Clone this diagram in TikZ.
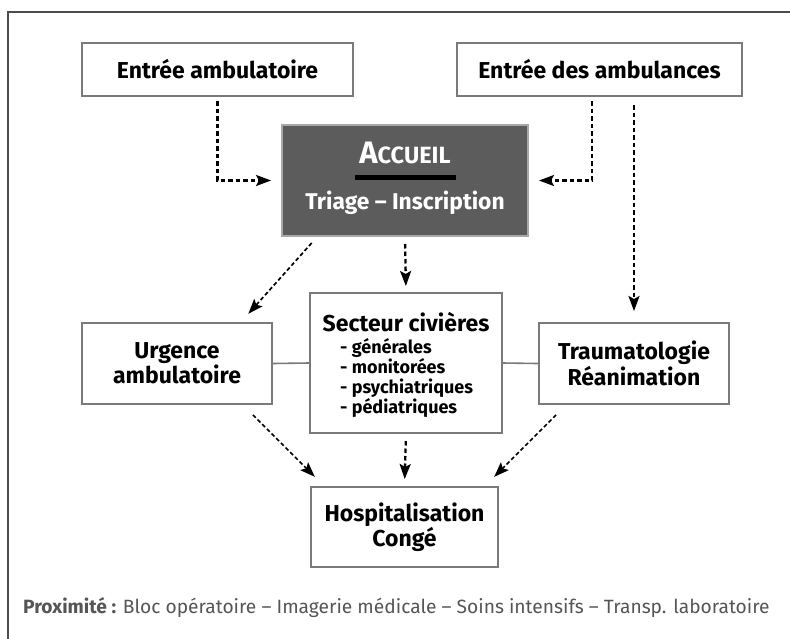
\documentclass[tikz,border=0pt]{standalone}
\usepackage{fontspec}
\setmainfont{Fira Sans}
\usetikzlibrary{arrows.meta}
\definecolor{boxgray}{HTML}{7A7A7A}
\definecolor{accfill}{HTML}{5C5C5C}
\definecolor{accborder}{HTML}{A8A8A8}
\definecolor{foottext}{HTML}{555555}
\begin{document}
\begin{tikzpicture}[x=1pt,y=-1pt,
  box/.style={draw=boxgray, line width=2pt, fill=white, align=center, inner sep=0pt,
    font=\bfseries\fontsize{23}{23.5}\selectfont},
  darrow/.style={dash pattern=on 4.5pt off 3pt, line width=2.3pt,
    -{Stealth[length=15pt,width=11pt,inset=3pt]}},
  diagarrow/.style={dash pattern=on 4pt off 2.6pt, line width=1.7pt,
    -{Stealth[length=15pt,width=11pt,inset=3pt]}},
  link/.style={draw=boxgray, line width=1.6pt}]
\useasboundingbox (0,0) rectangle (790,638);
\draw[line width=1.2pt, black!70] (8,640) -- (8,12) -- (792,12);

\node[box, minimum width=271pt, minimum height=53pt] (ea) at (217.5,69.5) {Entrée ambulatoire};
\node[box, minimum width=285pt, minimum height=53pt] (eda) at (599.5,69.5) {Entrée des ambulances};

\node[draw=accborder, line width=2pt, fill=accfill, minimum width=246pt, minimum height=111pt, inner sep=0pt] (acc) at (405,180.5) {};
\node[text=white, font=\bfseries, inner sep=0pt] (acct) at (405,153) {\fontsize{31}{31}\selectfont A\fontsize{23.5}{23.5}\selectfont CCUEIL};
\node[fill=black, minimum width=101pt, minimum height=4.5pt, inner sep=0pt] (accbar) at (405.5,177.5) {};
\node[text=white, font=\bfseries\fontsize{22.8}{23.5}\selectfont, inner sep=0pt] (trig) at (405,203) {Triage – Inscription};

\node[box, minimum width=190pt, minimum height=81pt] (urg) at (177,363.5) {Urgence\\ambulatoire};
\node[box, minimum width=192pt, minimum height=140pt] (sec) at (406,363) {};
\node[font=\bfseries\fontsize{23}{23.5}\selectfont, inner sep=0pt] (sect) at (406,322) {Secteur civières};
\node[font=\bfseries\fontsize{18}{20.3}\selectfont, inner sep=0pt, align=left, anchor=west] (secl) at (340,378) {- générales\\- monitorées\\- psychiatriques\\- pédiatriques};
\node[box, minimum width=190pt, minimum height=81pt] (tra) at (634,363.5) {Traumatologie\\Réanimation};
\node[box, minimum width=187pt, minimum height=80pt] (hos) at (404.5,527) {Hospitalisation\\Congé};

\node[anchor=west, text=foottext, font=\fontsize{19.2}{21}\selectfont, inner sep=0pt] (prox) at (23,608)
  {\textbf{Proximité :} Bloc opératoire – Imagerie médicale – Soins intensifs – Transp. laboratoire};

% connectors
\draw[darrow, shorten <=4pt, shorten >=10pt] (ea.south) |- (acc.west);
\draw[darrow, shorten <=4pt, shorten >=10pt] ([xshift=-7.5pt]eda.south) |- (acc.east);
\draw[darrow, shorten <=8pt, shorten >=11pt] (eda.south -| tra.north) -- (tra.north);
\draw[darrow, shorten <=7pt, shorten >=6pt] (acc.south) -- (sec.north);
\draw[diagarrow, shorten <=8pt, shorten >=11pt] ([xshift=36pt]acc.south west) -- ([xshift=-32pt]urg.north east);
\draw[darrow, shorten <=7pt, shorten >=7pt] (sec.south) -- (hos.north);
\draw[diagarrow, shorten <=14pt, shorten >=13pt] ([xshift=-30pt]urg.south east) -- ([xshift=14pt]hos.north west);
\draw[diagarrow, shorten <=14pt, shorten >=13pt] ([xshift=28pt]tra.south west) -- ([xshift=-14pt]hos.north east);
\draw[link] (urg.east) -- (sec.west);
\draw[link] (sec.east) -- (tra.west);
\end{tikzpicture}
\end{document}
